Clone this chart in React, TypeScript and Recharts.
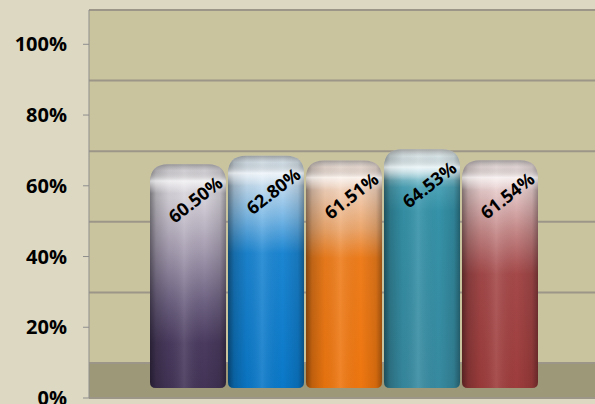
import { BarChart, Bar, XAxis, YAxis, CartesianGrid, LabelList } from "recharts"

// five unnamed groups, share in %
const groups = ["G1", "G2", "G3", "G4", "G5"]
const shares = [60.5, 62.8, 61.51, 64.53, 61.54]
const yTicks = [0, 20, 40, 60, 80, 100]

// vertical colour ramps for each cylinder (top -> bottom)
const ramps: [number, string][][] = [
  [[0, "#dedbe0"], [0.15, "#d6d2da"], [0.38, "#a69db1"], [0.62, "#6d6181"], [0.8, "#4a3b5f"], [1, "#433457"]],
  [[0, "#e2edf4"], [0.12, "#c7def0"], [0.26, "#7cb9e6"], [0.42, "#1c86d2"], [1, "#0a78c8"]],
  [[0, "#f4e8e2"], [0.12, "#f2d3bd"], [0.3, "#eca76d"], [0.43, "#ee7d1c"], [1, "#ee760f"]],
  [[0, "#f2f9fa"], [0.07, "#cfe8ee"], [0.16, "#4ca3b7"], [0.26, "#3592a8"], [1, "#378aa0"]],
  [[0, "#f2e6e6"], [0.12, "#e9cfcf"], [0.3, "#c68b8b"], [0.5, "#a5494a"], [1, "#9e3c3c"]],
]

const chartData = groups.map((g, i) => ({ group: g, share: shares[i] }))

const WALL = "#c9c39e"
const FLOOR = "#9c9878"

function CylinderBar(props: any) {
  const { x, y, width, height, index } = props
  if (!height || height <= 0) return null
  const rt = Math.min(18, width / 2)
  const rb = 6
  const d = `M${x},${y + rt} Q${x},${y} ${x + rt},${y} L${x + width - rt},${y} Q${x + width},${y} ${x + width},${y + rt}
    L${x + width},${y + height - rb} Q${x + width},${y + height} ${x + width - rb},${y + height}
    L${x + rb},${y + height} Q${x},${y + height} ${x},${y + height - rb} Z`
  return (
    <g>
      <path d={d} fill={`url(#barFill${index})`} />
      <path d={d} fill="url(#barSide)" />
      <path d={d} fill="url(#barCap)" />
    </g>
  )
}

function TopLabel(props: any) {
  const { x, y, width, value } = props
  const cx = x + width / 2 + 7
  const cy = y + 35
  return (
    <text
      x={cx}
      y={cy}
      transform={`rotate(-38 ${cx} ${cy})`}
      textAnchor="middle"
      dominantBaseline="central"
      fontFamily="Open Sans"
      fontWeight={700}
      fontSize={18}
      fill="#000"
    >
      {Number(value).toFixed(2)}%
    </text>
  )
}

export default function App() {
  return (
    <div style={{ position: "absolute", left: 0, top: 0, width: 595, height: 404, background: "#dcd8c2" }}>
      <BarChart
        width={595}
        height={404}
        data={chartData}
        margin={{ top: 10, right: 0, bottom: 6, left: 0 }}
        barCategoryGap={1}
      >
        <defs>
          {ramps.map((stops, i) => (
            <linearGradient key={i} id={`barFill${i}`} x1="0" y1="0" x2="0" y2="1">
              {stops.map(([o, c]) => (
                <stop key={o} offset={o} stopColor={c} />
              ))}
            </linearGradient>
          ))}
          <linearGradient id="barSide" x1="0" y1="0" x2="1" y2="0">
            <stop offset={0} stopColor="#000" stopOpacity={0.45} />
            <stop offset={0.08} stopColor="#000" stopOpacity={0.2} />
            <stop offset={0.25} stopColor="#000" stopOpacity={0.04} />
            <stop offset={0.45} stopColor="#fff" stopOpacity={0.1} />
            <stop offset={0.72} stopColor="#000" stopOpacity={0} />
            <stop offset={0.92} stopColor="#000" stopOpacity={0.12} />
            <stop offset={1} stopColor="#000" stopOpacity={0.35} />
          </linearGradient>
          <linearGradient id="barCap" x1="0" y1="0" x2="0" y2="1">
            <stop offset={0} stopColor="#555" stopOpacity={0.5} />
            <stop offset={0.03} stopColor="#888" stopOpacity={0.15} />
            <stop offset={0.075} stopColor="#fff" stopOpacity={0.65} />
            <stop offset={0.13} stopColor="#fff" stopOpacity={0} />
          </linearGradient>
        </defs>
        <XAxis dataKey="group" hide padding={{ left: 60, right: 56 }} />
        <YAxis
          yAxisId="front"
          width={89}
          domain={[0, 109.7]}
          allowDataOverflow
          ticks={yTicks}
          interval={0}
          tickFormatter={(v) => `${v}%`}
          tick={{ fill: "#000", fontSize: 20, fontWeight: 700, fontFamily: "Open Sans" }}
          tickSize={6}
          tickMargin={16}
          axisLine={{ stroke: "#8e8e8e" }}
          tickLine={{ stroke: "#8e8e8e" }}
        />
        <YAxis yAxisId="wall" hide width={0} domain={[-9.915, 100]} allowDataOverflow ticks={yTicks} />
        <YAxis yAxisId="bars" hide width={0} domain={[-2.7, 102.16]} allowDataOverflow />
        <CartesianGrid
          yAxisId="wall"
          vertical={false}
          fill={WALL}
          fillOpacity={1}
          horizontalFill={[WALL, WALL, WALL, WALL, WALL, FLOOR]}
          stroke="#9b9688"
          strokeWidth={2}
        />
        <Bar
          yAxisId="bars"
          dataKey="share"
          shape={<CylinderBar />}
          isAnimationActive={false}
        >
          <LabelList dataKey="share" content={<TopLabel />} />
        </Bar>
      </BarChart>
    </div>
  )
}
